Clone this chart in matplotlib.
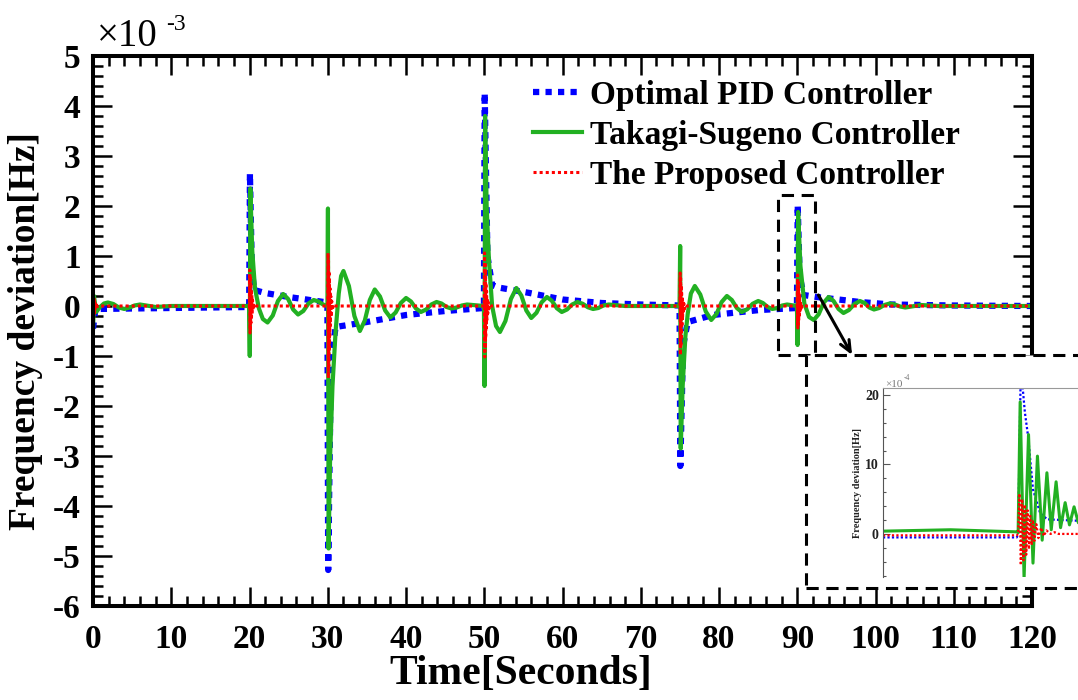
import matplotlib.pyplot as plt
from matplotlib.patches import Rectangle
from matplotlib.ticker import MultipleLocator

plt.rcParams['font.family'] = ['Liberation Serif', 'DejaVu Serif']
plt.rcParams['font.weight'] = 'bold'
plt.rcParams['axes.labelweight'] = 'bold'
plt.rcParams['axes.unicode_minus'] = False

# main plot, deviation in units of 1e-3 Hz
pid_t = [0.0, 0.3, 10.0, 19.95,
         20.05, 20.3, 20.6, 22.0, 25.0, 29.95,
         30.05, 30.4, 31.0, 35.0, 40.0, 45.0, 49.95,
         50.05, 50.4, 51.0, 51.8, 55.8, 60.0, 65.0, 70.0, 74.95,
         75.05, 75.4, 76.0, 79.2, 85.2, 89.95,
         90.05, 90.3, 90.8, 92.5, 98.0, 102.0, 110.0, 120.0]
pid_dev = [-0.45, -0.06, -0.04, -0.02,
           2.65, 0.7, 0.32, 0.26, 0.18, 0.07,
           -5.28, -1.1, -0.42, -0.32, -0.18, -0.1, -0.04,
           4.26, 1.0, 0.42, 0.37, 0.26, 0.13, 0.06, 0.03, 0.01,
           -3.2, -0.8, -0.32, -0.18, -0.08, -0.04,
           2.02, 0.6, 0.22, 0.18, 0.08, 0.03, 0.01, 0.0]

ts_t = [0.0, 0.12, 0.4, 0.9, 1.4, 1.9, 2.6, 3.3, 4.0, 4.7, 5.3, 6.0, 8.0, 10.0, 19.95,
        20.03, 20.1, 20.35, 20.7, 21.2, 21.7, 22.3, 22.97, 23.63, 24.3, 24.93, 25.57, 26.2,
        26.87, 27.53, 28.2, 28.8, 29.4, 29.95,
        30.02, 30.1, 30.3, 30.6, 31.0, 31.4, 31.7, 32.0, 32.7, 33.4, 34.1, 34.73, 35.37, 36.0,
        36.67, 37.33, 38.0, 38.67, 39.33, 40.0, 40.63, 41.27, 41.9, 42.57, 43.23, 43.9, 44.53,
        45.17, 45.8, 46.47, 47.13, 47.8, 49.95,
        50.03, 50.1, 50.3, 50.6, 51.0, 51.5, 52.0, 52.7, 53.4, 54.1, 54.73, 55.37, 56.0, 56.67,
        57.33, 58.0, 58.63, 59.27, 59.9, 60.57, 61.23, 61.9, 62.57, 63.23, 63.9, 64.57, 65.23,
        65.9, 68.0, 74.95,
        75.03, 75.1, 75.35, 75.7, 76.0, 76.4, 76.9, 77.6, 78.3, 79.0, 79.67, 80.33, 81.0, 81.63,
        82.27, 82.9, 83.6, 84.3, 85.0, 85.6, 86.2, 86.8, 87.43, 88.07, 88.7, 89.95,
        90.03, 90.1, 90.4, 90.9, 91.5, 92.1, 92.73, 93.37, 94.0, 94.63, 95.27, 95.9, 96.6, 97.3,
        98.0, 98.6, 99.2, 99.8, 100.47, 101.13, 101.8, 102.47, 103.13, 103.8, 105.8, 108.0, 120.0]
ts_dev = [-0.45, 0.2, -0.12, -0.02, 0.05, 0.07, 0.04, -0.03, -0.06, -0.03, 0.01, 0.03, -0.02, 0.0, 0.0,
          -1.0, 2.35, 1.1, 0.35, -0.05, -0.26, -0.33, -0.19, 0.1, 0.24, 0.14, -0.07, -0.17,
          -0.1, 0.05, 0.12, 0.09, 0.03, 0.0,
          1.95, -4.85, -3.0, -1.6, -0.5, 0.25, 0.6, 0.7, 0.4, -0.2, -0.5, -0.29, 0.12, 0.33,
          0.19, -0.09, -0.23, -0.13, 0.06, 0.16, 0.09, -0.05, -0.12, -0.07, 0.03, 0.08, 0.05,
          -0.02, -0.05, -0.03, 0.01, 0.03, 0.0,
          -1.6, 3.8, 2.0, 0.9, 0.0, -0.4, -0.52, -0.3, 0.14, 0.36, 0.21, -0.09, -0.24, -0.135,
          0.075, 0.18, 0.105, -0.045, -0.12, -0.07, 0.03, 0.08, 0.045, -0.025, -0.06, -0.04, 0.01,
          0.03, 0.0, 0.0,
          1.2, -2.85, -1.6, -0.6, -0.15, 0.25, 0.4, 0.23, -0.11, -0.28, -0.16, 0.08, 0.2, 0.12,
          -0.04, -0.12, -0.065, 0.045, 0.1, 0.06, -0.02, -0.06, -0.04, 0.01, 0.03, 0.0,
          -0.78, 1.88, 0.8, 0.05, -0.22, -0.28, -0.165, 0.065, 0.18, 0.1, -0.06, -0.14, -0.08, 0.04,
          0.1, 0.06, -0.03, -0.07, -0.04, 0.02, 0.05, 0.03, -0.01, -0.03, 0.02, 0.0, 0.0]

# proposed controller: short fast bursts after each load change
event_times = [0.0, 20.0, 30.0, 50.0, 75.0, 90.0]
burst_dt = [0.0, 0.03, 0.06, 0.09, 0.12, 0.15, 0.18, 0.21, 0.25, 0.29, 0.33, 0.38, 0.44, 0.5, 0.58, 0.7, 0.85]
burst_dev = [
    [0, 0.2, -0.22, 0.16, -0.18, 0.12, -0.13, 0.08, -0.09, 0.05, -0.06, 0.03, -0.03, 0.01, -0.01, 0.0, 0.0],
    [0, 0.72, -0.54, 0.6, -0.45, 0.46, -0.34, 0.33, -0.22, 0.22, -0.15, 0.12, -0.08, 0.05, -0.03, 0.01, 0.0],
    [0, 1.06, -1.44, 0.9, -1.2, 0.7, -0.9, 0.5, -0.6, 0.35, -0.4, 0.2, -0.22, 0.1, -0.08, 0.03, 0.0],
    [0, 1.06, -1.02, 0.88, -0.85, 0.66, -0.64, 0.46, -0.44, 0.3, -0.28, 0.16, -0.15, 0.08, -0.06, 0.02, 0.0],
    [0, 0.66, -0.98, 0.55, -0.82, 0.42, -0.62, 0.3, -0.42, 0.19, -0.28, 0.1, -0.15, 0.05, -0.06, 0.02, 0.0],
    [0, 0.62, -0.44, 0.52, -0.37, 0.4, -0.28, 0.28, -0.19, 0.18, -0.12, 0.1, -0.06, 0.04, -0.02, 0.01, 0.0],
]

# zoomed view around t = 90 s, deviation in units of 1e-4 Hz
zpid_t = [89.0, 89.99, 90.0, 90.02, 90.05, 90.074, 90.11, 90.163, 90.215, 90.33, 90.44, 90.7]
zpid_dev = [-0.5, -0.5, 0.0, 24.0, 17.5, 14.0, 6.4, 3.0, 2.1, 2.0, 1.9, 1.8]
zts_t = [89.0, 89.5, 89.99, 90.0, 90.015, 90.044, 90.077, 90.11, 90.143, 90.178, 90.213, 90.245,
         90.281, 90.314, 90.348, 90.38, 90.414, 90.446, 90.48, 90.51, 90.55, 90.58, 90.62, 90.7]
zts_dev = [0.4, 0.6, 0.3, 0.2, 19.0, -6.5, 14.3, -4.2, 11.2, -0.9, 8.8, 0.6,
           7.5, 0.9, 4.5, 1.3, 3.9, 1.6, 3.0, 1.7, 2.6, 1.8, 2.3, 2.0]
zprop_t = [89.0, 89.99, 90.0, 90.01, 90.02, 90.03, 90.04, 90.05, 90.06, 90.07, 90.08, 90.09,
           90.1, 90.11, 90.12, 90.135, 90.15, 90.17, 90.19, 90.21, 90.24, 90.27, 90.3, 90.7]
zprop_dev = [-0.2, -0.2, 0.0, 5.8, -4.5, 5.0, -3.8, 4.2, -3.0, 3.4, -2.2, 2.6,
             -1.6, 2.0, -1.0, 1.4, -0.6, 0.9, -0.3, 0.5, 0.0, 0.25, 0.0, 0.0]

labels = ['Optimal PID Controller', 'Takagi-Sugeno Controller', 'The Proposed Controller']
x_ticks = list(range(0, 121, 10))
y_ticks = list(range(-6, 6))

blue, green, red = '#0000FF', '#22B022', '#FF0000'

prop_t, prop_dev = [], []
for te, amps in zip(event_times, burst_dev):
    prop_t += [te + d for d in burst_dt]
    prop_dev += amps
prop_t.append(120.0)
prop_dev.append(0.0)

fig = plt.figure(figsize=(10.78, 7.0), dpi=100)
ax = fig.add_axes([0.0863, 0.1343, 0.8711, 0.7857])

ax.plot(pid_t, pid_dev, color=blue, lw=4.5, ls=(0, (1, 1)), label=labels[0])
ax.plot(ts_t, ts_dev, color=green, lw=3, label=labels[1])
ax.plot(prop_t, prop_dev, color=red, lw=2.2, ls=(0, (1, 1)), label=labels[2])

ax.set_xlim(0, 120)
ax.set_ylim(-6, 5)
ax.set_xticks(x_ticks)
ax.set_yticks(y_ticks)
ax.xaxis.set_minor_locator(MultipleLocator(2))
ax.yaxis.set_minor_locator(MultipleLocator(0.2))
ax.tick_params(which='both', direction='in', top=True, right=True, width=1.8, labelsize=24)
ax.tick_params(which='major', length=13.5)
ax.tick_params(which='minor', length=7)
ax.tick_params(axis='x', pad=13)
ax.tick_params(axis='y', pad=9)
for s in ax.spines.values():
    s.set_linewidth(2.9)

ax.set_xlabel('Time[Seconds]', fontsize=30)
ax.set_ylabel('Frequency deviation[Hz]', fontsize=27)
ax.xaxis.set_label_coords(0.455, -0.09)
ax.yaxis.set_label_coords(-0.053, 0.5)

fig.text(0.09, 0.934, '\u00d710', fontsize=28, fontweight='normal')
fig.text(0.154, 0.957, '-3', fontsize=17, fontweight='normal')

ax.legend(loc='upper left', bbox_to_anchor=(0.469, 0.957), frameon=False, fontsize=24,
          borderpad=0, borderaxespad=0, handlelength=1.45, handletextpad=0.25, labelspacing=0.27)

# small box around the t = 90 s event and the arrow to the zoom
ax.add_patch(Rectangle((87.5, -0.98), 4.8, 3.2, fill=False, ls=(0, (4, 2.5)), lw=2.2, zorder=5))
ax.annotate('', xy=(97.0, -0.98), xytext=(92.7, 0.22),
            arrowprops=dict(arrowstyle='->,head_length=0.8,head_width=0.35', lw=2.2,
                            color='k', shrinkA=0, shrinkB=0))

# dashed frame holding the zoomed view
frame = Rectangle((0.7477, 0.16), 0.27, 0.333, transform=fig.transFigure, facecolor='white',
                  edgecolor='k', ls=(0, (4, 2.5)), lw=2.2, zorder=1)
fig.add_artist(frame)

ins = fig.add_axes([0.8191, 0.1757, 0.2106, 0.27])
ins.set_zorder(2)
ins.patch.set_visible(False)
ins.plot(zpid_t, zpid_dev, color=blue, lw=1.6, ls=(0, (1, 1)))
ins.plot(zts_t, zts_dev, color=green, lw=2.2)
ins.plot(zprop_t, zprop_dev, color=red, lw=1.6, ls=(0, (1, 1)))
ins.set_xlim(89.0, 90.68)
ins.set_ylim(-6.2, 21)
ins.set_yticks([0, 10, 20])
ins.yaxis.set_minor_locator(MultipleLocator(2))
ins.set_xticks([])
ins.tick_params(which='both', direction='in', colors='#555555', width=0.8, labelsize=10, pad=3)
ins.tick_params(axis='y', labelcolor='#222222')
ins.tick_params(which='major', length=5)
ins.tick_params(which='minor', length=2.5)
ins.spines['bottom'].set_visible(False)
ins.spines['right'].set_visible(False)
ins.spines['left'].set_color('#555555')
ins.spines['top'].set_color('#999999')
ins.set_ylabel('Frequency deviation[Hz]', fontsize=7.5, labelpad=2, color='#222222')
fig.text(0.821, 0.447, '\u00d710', fontsize=8, fontweight='normal', color='#777777')
fig.text(0.838, 0.457, '-4', fontsize=5.5, fontweight='normal', color='#777777')

fig.savefig('out.png', dpi=100)
